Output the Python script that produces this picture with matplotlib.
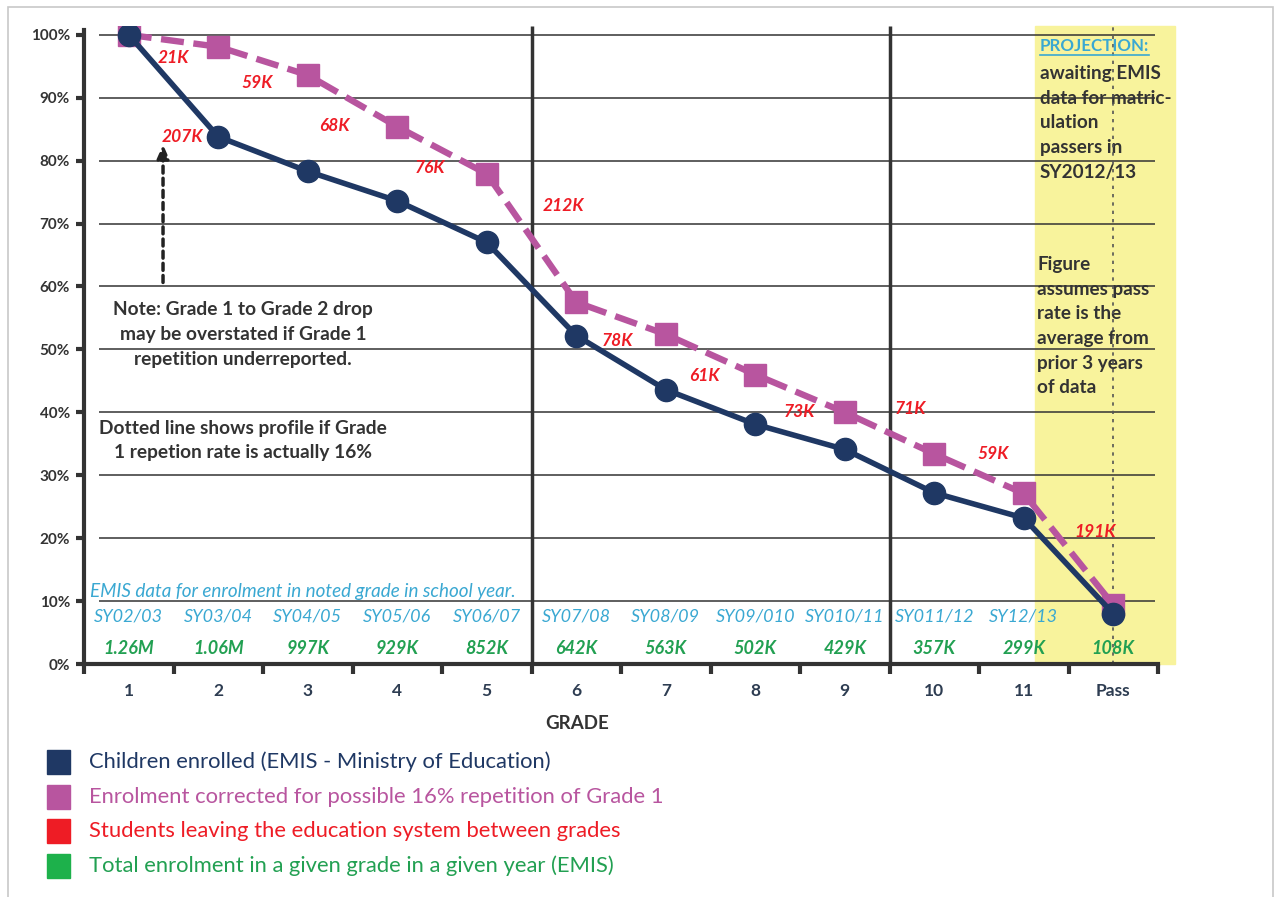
import matplotlib.pyplot as plt
import numpy as np
from matplotlib.patches import Rectangle

# categories and series (share of grade 1 enrolment, %)
grades = ["1", "2", "3", "4", "5", "6", "7", "8", "9", "10", "11", "Pass"]
enrolled = [100.0, 83.8, 78.3, 73.6, 67.0, 52.2, 43.6, 38.1, 34.1, 27.2, 23.2, 8.0]
corrected = [100.0, 98.1, 93.6, 85.4, 77.9, 57.5, 52.4, 46.0, 40.0, 33.4, 27.1, 9.4]

school_years = ["SY02/03", "SY03/04", "SY04/05", "SY05/06", "SY06/07", "SY07/08",
                "SY08/09", "SY09/010", "SY010/11", "SY011/12", "SY12/13"]
totals = ["1.26M", "1.06M", "997K", "929K", "852K", "642K",
          "563K", "502K", "429K", "357K", "299K", "108K"]

leavers = ["21K", "207K", "59K", "68K", "76K", "212K",
           "78K", "61K", "73K", "71K", "59K", "191K"]
# where the leaver labels sit (x in grade units, y in %)
leaver_x = [1.5, 1.6, 2.43, 3.3, 4.37, 5.86, 6.46, 7.43, 8.49, 9.73, 10.66, 11.8]
leaver_y = [96.3, 83.8, 92.4, 85.5, 78.8, 72.8, 51.4, 45.7, 40.1, 40.6, 33.4, 20.9]

legend_labels = [
    "Children enrolled (EMIS - Ministry of Education)",
    "Enrolment corrected for possible 16% repetition of Grade 1",
    "Students leaving the education system between grades",
    "Total enrolment in a given grade in a given year (EMIS)",
]

NAVY = "#1F3864"
PINK = "#B8559F"
RED = "#EE1C25"
GREEN = "#22A052"
CYAN = "#3AA8D2"
DARK = "#333333"
YELLOW = "#F8F39C"

plt.rcParams["font.family"] = ["Lato", "DejaVu Sans"]

fig = plt.figure(figsize=(12.8, 8.97), dpi=100)
ax = fig.add_axes([84 / 1280, 1 - 664 / 897, (1158 - 84) / 1280, (664 - 26) / 897])

x = np.arange(1, len(grades) + 1)
ymax = 101.4
ax.set_xlim(0.5, len(grades) + 0.5)
ax.set_ylim(0, ymax)

# projection band
ax.axvspan(11.13, 12.69, ymin=0, ymax=1, color=YELLOW, zorder=0, clip_on=False)

# gridlines
ax.hlines(np.arange(10, 101, 10), 0.668, 12.47, color=DARK, lw=1.1, zorder=1)
ax.vlines([5.5, 9.5], 0, ymax, color=DARK, lw=2.5, zorder=1)
ax.vlines(12, 0, ymax, color="#555555", lw=1.2, linestyles=(0, (2, 3)), zorder=1)

# series
ax.plot(x, corrected, color=PINK, lw=4.6, dashes=(3.6, 1.5), marker="s",
        markersize=16, zorder=3)
ax.plot(x, enrolled, color=NAVY, lw=4.0, marker="o", markersize=16, zorder=4)

# leaver labels
for lx, ly, t in zip(leaver_x, leaver_y, leavers):
    ax.text(lx, ly, t, color=RED, fontsize=12.5, fontweight="bold", style="italic",
            ha="center", va="center", zorder=5)

# school years and totals
ax.text(0.567, 11.6, "EMIS data for enrolment in noted grade in school year.",
        color=CYAN, fontsize=13.6, style="italic", ha="left", va="center", zorder=5)
for xi, sy in zip(x, school_years):
    ax.text(xi, 7.6, sy, color=CYAN, fontsize=13, style="italic",
            ha="center", va="center", zorder=5)
for xi, tot in zip(x, totals):
    ax.text(xi, 2.4, tot, color=GREEN, fontsize=13, style="italic", fontweight="bold",
            ha="center", va="center", zorder=5)

# notes
ax.text(2.28, 52.4, "Note: Grade 1 to Grade 2 drop\nmay be overstated if Grade 1\nrepetition underreported.",
        color=DARK, fontsize=13.8, fontweight="bold", ha="center", va="center",
        linespacing=1.55, zorder=5)
ax.text(2.28, 35.5, "Dotted line shows profile if Grade\n1 repetion rate is actually 16%",
        color=DARK, fontsize=13.8, fontweight="bold", ha="center", va="center",
        linespacing=1.5, zorder=5)
ax.annotate("", xy=(1.383, 83.0), xytext=(1.383, 60.2),
            arrowprops=dict(arrowstyle="-|>,head_width=0.35,head_length=0.8",
                            color="#222222", lw=2.5, linestyle=(0, (2, 1.5))),
            zorder=5)

proj = ax.text(11.18, 98.2, "PROJECTION:", color=CYAN, fontsize=12.2,
               fontweight="bold", ha="left", va="center", zorder=2)
ax.text(11.18, 86.0, "awaiting EMIS\ndata for matric-\nulation\npassers in\nSY2012/13",
        color=DARK, fontsize=13.6, fontweight="bold", ha="left", va="center",
        linespacing=1.55, zorder=0.5)
ax.text(11.15, 53.7, "Figure\nassumes pass\nrate is the\naverage from\nprior 3 years\nof data",
        color=DARK, fontsize=13.6, fontweight="bold", ha="left", va="center",
        linespacing=1.55, zorder=0.5)

# axes styling
for side in ["top", "right"]:
    ax.spines[side].set_visible(False)
for side in ["left", "bottom"]:
    ax.spines[side].set_linewidth(3)
    ax.spines[side].set_color(DARK)
ax.spines["left"].set_bounds(0, 100.8)
ax.set_yticks(np.arange(0, 101, 10))
ax.set_yticklabels([f"{v}%" for v in range(0, 101, 10)])
ax.set_xticks(np.arange(0.5, len(grades) + 1, 1))
ax.set_xticklabels([])
ax.set_xticks(x, minor=True)
ax.set_xticklabels(grades, minor=True)
ax.tick_params(axis="y", length=6, width=3, color=DARK, labelsize=11,
               labelcolor=DARK, pad=4)
ax.tick_params(axis="x", which="major", length=7, width=3, color=DARK)
ax.tick_params(axis="x", which="minor", length=0, labelsize=12.5, labelcolor="#2E3D52",
               pad=14)
for lab in ax.get_yticklabels() + ax.get_xticklabels(minor=True):
    lab.set_fontweight("bold")

fig.text(577 / 1280, 1 - 723 / 897, "GRADE", color=DARK, fontsize=13.5,
         fontweight="bold", ha="center", va="center")

# underline for PROJECTION:
fig.canvas.draw()
bb = proj.get_window_extent(fig.canvas.get_renderer())
fig.add_artist(plt.Line2D([bb.x0 / 1280, bb.x1 / 1280],
                          [(bb.y0 - 1) / 897, (bb.y0 - 1) / 897],
                          color=CYAN, lw=1.2))

# legend
legend_colors = [NAVY, PINK, RED, "#1DB14B"]
legend_text_colors = [NAVY, PINK, RED, GREEN]
for i, (lab, c, tc) in enumerate(zip(legend_labels, legend_colors, legend_text_colors)):
    yc = 762 + i * 34.7
    fig.add_artist(Rectangle((47 / 1280, 1 - (yc + 12) / 897), 23 / 1280, 24 / 897,
                             color=c, transform=fig.transFigure))
    fig.text(89 / 1280, 1 - yc / 897, lab, color=tc, fontsize=15.8,
             ha="left", va="center")

# frame
fig.add_artist(Rectangle((8 / 1280, -0.01), (1273 - 8) / 1280, 1 - 7 / 897 + 0.01,
                         fill=False, edgecolor="#C8C8C8", lw=1.2,
                         transform=fig.transFigure))

fig.savefig("out.png", dpi=100)
